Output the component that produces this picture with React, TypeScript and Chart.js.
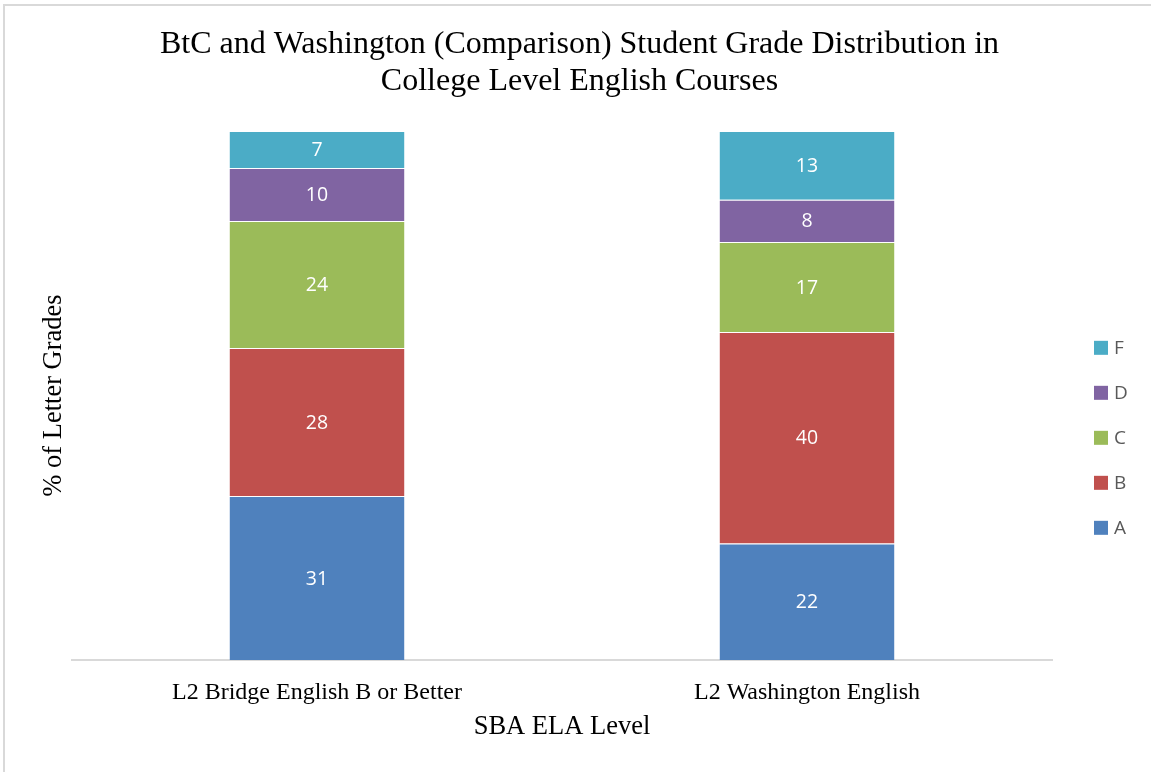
import React, { useEffect, useRef } from "react";
import { Chart, registerables } from "chart.js";

Chart.register(...registerables);

const categories = ["L2 Bridge English B or Better", "L2 Washington English"];
const gradeLabels = ["A", "B", "C", "D", "F"];
const gradeA = [31, 22];
const gradeB = [28, 40];
const gradeC = [24, 17];
const gradeD = [10, 8];
const gradeF = [7, 13];
const gradeColors = ["#4F81BD", "#C0504D", "#9BBB59", "#8064A2", "#4BACC6"];
const titleLines = [
  "BtC and Washington (Comparison) Student Grade Distribution in",
  "College Level English Courses",
];
const xTitle = "SBA ELA Level";
const yTitle = "% of Letter Grades";

const SERIF = "'Liberation Serif', 'Times New Roman', serif";
const SANS = "'Open Sans', 'Liberation Sans', sans-serif";

const dataLabelPlugin = {
  id: "dataLabels",
  afterDatasetsDraw(chart: any) {
    const ctx = chart.ctx;
    ctx.save();
    ctx.fillStyle = "#ffffff";
    ctx.font = `19.5px ${SANS}`;
    ctx.textAlign = "center";
    ctx.textBaseline = "middle";
    chart.data.datasets.forEach((ds: any, di: number) => {
      const meta = chart.getDatasetMeta(di);
      meta.data.forEach((bar: any, i: number) => {
        const v = ds.data[i];
        const cy = (bar.y + bar.base) / 2;
        ctx.fillText(String(v), bar.x, cy + 1);
      });
    });
    ctx.restore();
  },
};

const titlePlugin = {
  id: "customTitle",
  afterDraw(chart: any) {
    const ctx = chart.ctx;
    ctx.save();
    ctx.fillStyle = "#000000";
    ctx.font = `32px ${SERIF}`;
    ctx.textAlign = "center";
    ctx.textBaseline = "middle";
    const cx = chart.width / 2 + 4;
    titleLines.forEach((line, i) => {
      ctx.fillText(line, cx, 45 + i * 37);
    });
    ctx.restore();
  },
};

const customLegend = {
  id: "customLegend",
  afterDraw(chart: any) {
    const ctx = chart.ctx;
    const area = chart.chartArea;
    const n = chart.data.datasets.length;
    const spacing = 45;
    const centerY = area.top + (area.bottom - area.top) * 0.58;
    const startY = centerY - ((n - 1) * spacing) / 2;
    const boxX = area.right + 42;
    ctx.save();
    ctx.font = `19px ${SANS}`;
    ctx.textBaseline = "middle";
    ctx.textAlign = "left";
    for (let k = 0; k < n; k++) {
      const di = n - 1 - k;
      const ds = chart.data.datasets[di];
      const y = startY + k * spacing;
      ctx.fillStyle = ds.backgroundColor;
      ctx.fillRect(boxX, y - 7, 14, 14);
      ctx.fillStyle = "#595959";
      ctx.fillText(ds.label, boxX + 20, y + 1);
    }
    ctx.restore();
  },
};

export default function App() {
  const ref = useRef<HTMLCanvasElement | null>(null);
  useEffect(() => {
    if (!ref.current) return;
    const series = [gradeA, gradeB, gradeC, gradeD, gradeF];
    const chart = new Chart(ref.current, {
      type: "bar",
      data: {
        labels: categories,
        datasets: series.map((d, i) => ({
          label: gradeLabels[i],
          data: d,
          backgroundColor: gradeColors[i],
          borderColor: "rgba(255,255,255,0.45)",
          borderWidth: { top: 1 },
          borderSkipped: false,
          barPercentage: 1,
          categoryPercentage: 0.357,
        })),
      },
      options: {
        responsive: false,
        animation: false,
        devicePixelRatio: 1,
        layout: { padding: { left: 20, right: 99, top: 131, bottom: 29 } },
        plugins: {
          legend: { display: false },
          tooltip: { enabled: false },
          title: { display: false },
        },
        scales: {
          x: {
            stacked: true,
            grid: { display: false, drawTicks: false },
            border: { display: true, color: "#d9d9d9", width: 2 },
            ticks: {
              color: "#000000",
              font: { family: SERIF, size: 24 },
              padding: 18,
              maxRotation: 0,
            },
            title: {
              display: true,
              text: xTitle,
              color: "#000000",
              font: { family: SERIF, size: 26.5 },
              padding: { top: 0, bottom: 0 },
            },
            afterFit: (scale: any) => {
              scale.height = 83;
            },
          },
          y: {
            stacked: true,
            min: 0,
            max: 100,
            grid: { display: false, drawTicks: false },
            border: { display: false },
            ticks: { display: false },
            title: {
              display: true,
              text: yTitle,
              color: "#000000",
              font: { family: SERIF, size: 26.5 },
              padding: { top: 18, bottom: 0 },
            },
            afterFit: (scale: any) => {
              scale.width = 52;
            },
          },
        },
      },
      plugins: [dataLabelPlugin, titlePlugin, customLegend],
    });
    return () => chart.destroy();
  }, []);

  return (
    <div style={{ position: "fixed", left: 0, top: 0, width: 1151, height: 772, overflow: "hidden", background: "#fff" }}>
      <div
        style={{
          position: "absolute",
          left: 3,
          top: 4,
          width: 1170,
          height: 790,
          border: "2px solid #d9d9d9",
          boxSizing: "border-box",
        }}
      />
      <canvas
        ref={ref}
        width={1151}
        height={772}
        style={{ position: "absolute", left: 0, top: 0, width: 1151, height: 772 }}
      />
    </div>
  );
}
